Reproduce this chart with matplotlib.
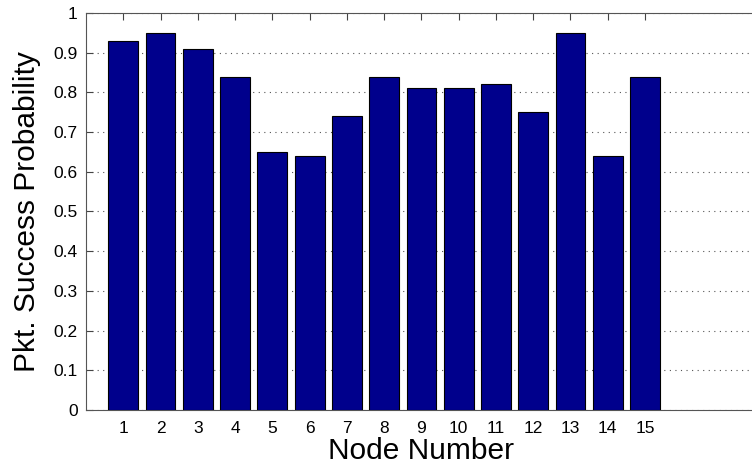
import numpy as np
from matplotlib import pyplot as plt

# Packet success probability per node
nodes = list(range(1, 16))
success_prob = [0.93, 0.95, 0.91, 0.84, 0.65, 0.64, 0.74, 0.84,
                0.81, 0.81, 0.82, 0.75, 0.95, 0.64, 0.84]
y_ticks = [0, 0.1, 0.2, 0.3, 0.4, 0.5, 0.6, 0.7, 0.8, 0.9, 1]
y_tick_labels = ['0', '0.1', '0.2', '0.3', '0.4', '0.5', '0.6', '0.7', '0.8', '0.9', '1']

plt.rcParams['font.family'] = ['Liberation Sans', 'DejaVu Sans']

fig = plt.figure(figsize=(7.52, 4.69), dpi=100)
ax = fig.add_axes([0.1144, 0.1258, 0.892, 0.8465])

ax.bar(nodes, success_prob, width=0.8, color='#00008C',
       edgecolor='black', linewidth=0.8, zorder=3)

ax.set_xlim(0, 18)
ax.set_ylim(0, 1)
ax.set_xticks(nodes)
ax.set_yticks(y_ticks)
ax.set_yticklabels(y_tick_labels)
ax.tick_params(direction='in', top=True, right=False, labelsize=12.5,
               length=5, width=0.8, color='#444444')
ax.tick_params(axis='x', pad=8)
ax.tick_params(axis='y', pad=6)
ax.yaxis.grid(True, linestyle=(0, (1, 4)), color='#555555', linewidth=0.8)
ax.set_axisbelow(True)
for side in ['left', 'bottom', 'top']:
    ax.spines[side].set_color('#555555')
ax.spines['right'].set_visible(False)

ax.set_xlabel('Node Number', fontsize=21.5, labelpad=1)
ax.set_ylabel('Pkt. Success Probability', fontsize=21.5, labelpad=9)

fig.savefig('out.png', dpi=100)
